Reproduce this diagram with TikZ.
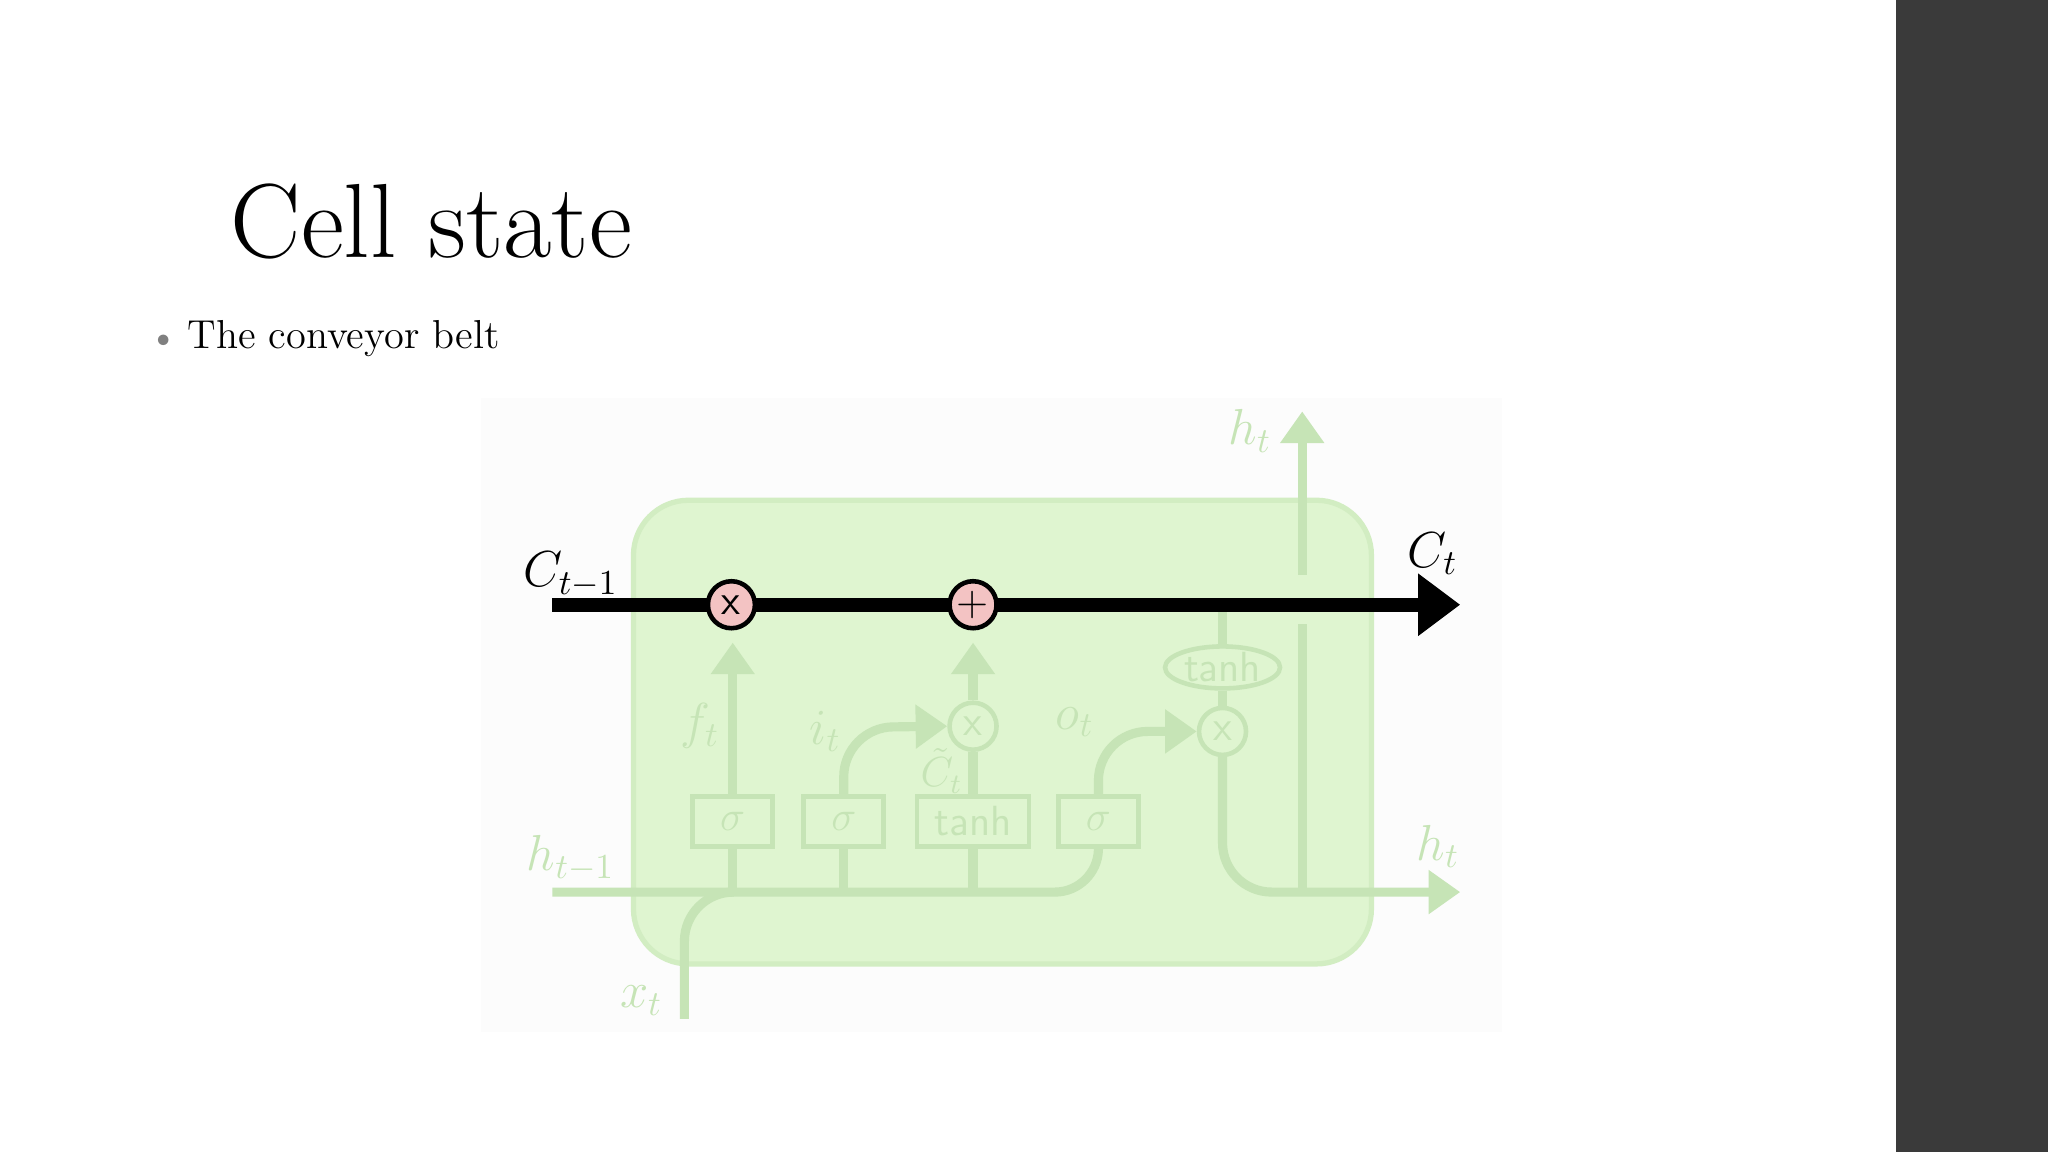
\documentclass[tikz,border=0pt]{standalone}
\usetikzlibrary{arrows.meta,shapes.geometric}
\definecolor{fade}{HTML}{C6E4B6}
\definecolor{boxg}{HTML}{DFF5D0}
\definecolor{boxb}{HTML}{D2EDC2}
\definecolor{pinkc}{HTML}{F3C3C3}
\definecolor{panel}{HTML}{3A3A3A}
\tikzset{
 fl/.style={draw=fade,line width=2.6pt},
 fa/.style={fl,-{Triangle[length=9pt,width=12pt]}},
 fbox/.style={draw=fade,line width=1.3pt,text=fade,font=\sffamily\large,minimum height=0.5cm,inner sep=1pt},
 fcirc/.style={circle,draw=fade,line width=1.3pt,text=fade,minimum size=0.47cm,inner sep=0pt,font=\sffamily\large},
 pc/.style={circle,draw=black,fill=pinkc,line width=1.3pt,minimum size=0.47cm,inner sep=0pt,font=\sffamily\large},
 fadetxt/.style={text=fade,font=\Large},
}
\begin{document}
\begin{tikzpicture}[x=0.013061cm,y=-0.013061cm]
\useasboundingbox (0,0) rectangle (1568,882);
\fill[white] (0,0) rectangle (1568,882);
\fill[panel] (1452,0) rectangle (1568,882);
\fill[black!1] (368,305) rectangle (1150,790);
\node[anchor=base west,inner sep=0,font=\fontsize{30}{36}\selectfont] (title) at (176,197) {Cell state};
\node[anchor=base west,inner sep=0,text=gray,font=\scriptsize] (bul) at (119,265) {$\bullet$};
\node[anchor=base west,inner sep=0,font=\fontsize{11.5}{14}\selectfont] (b1) at (143,267) {The conveyor belt};
% green cell
\draw[fill=boxg,draw=boxb,line width=1.5pt,rounded corners=0.55cm] (485,383) rectangle (1050,738);
% boxes
\node[fbox,minimum width=0.8cm] (s1) at (561,629) {$\sigma$};
\node[fbox,minimum width=0.8cm] (s2) at (646,629) {$\sigma$};
\node[fbox,minimum width=1.12cm] (th) at (745,629) {tanh};
\node[fbox,minimum width=0.8cm] (s3) at (841,629) {$\sigma$};
\node[fcirc] (m2) at (745,556) {x};
\node[fcirc] (m3) at (936,560) {x};
\node[ellipse,draw=fade,line width=1.3pt,text=fade,font=\sffamily\large,minimum width=1.15cm,minimum height=0.42cm,inner sep=0pt] (te) at (936,511) {tanh};
% coordinates
\coordinate (hin) at (423,683);
\coordinate (hout) at (1118,683);
\coordinate (xin) at (524,780);
\coordinate (cin) at (423,463);
\coordinate (cout) at (1118,463);
\coordinate (htop) at (997,315);
% faded flows
\draw[fl,rounded corners=12pt] (hin) -- (840,683) -- (s3.south);
\draw[fl,rounded corners=14pt] (xin) -- (524,683) -- (560,683);
\draw[fl] (s1.south) -- (561,683);
\draw[fl] (s2.south) -- (646,683);
\draw[fl] (th.south) -- (745,683);
\draw[fa] (s1.north) -- (561,492);
\draw[fa,rounded corners=14pt] (s2.north) -- (646,557) -- (m2.west);
\draw[fl] (th.north) -- (m2.south);
\draw[fa] (m2.north) -- (745,492);
\draw[fa,rounded corners=14pt] (s3.north) -- (841,560) -- (m3.west);
\draw[fl] (936,466) -- (te.north);
\draw[fl] (te.south) -- (m3.north);
\draw[fa,rounded corners=14pt] (m3.south) -- (936,683) -- (hout);
\draw[fl] (997,683) -- (997,478);
\draw[fa] (997,440) -- (htop);
% cell state line
\draw[line width=4pt,-{Triangle[length=12pt,width=17pt]}] (cin) -- (cout);
\node[pc] (m1) at (560,463) {x};
\node[pc] (p1) at (745,463) {+};
% labels
\node[font=\Large] (lc1) at (437,440) {$C_{t-1}$};
\node[font=\Large] (lc2) at (1097,424) {$C_t$};
\node[fadetxt] (lf) at (536,556) {$f_t$};
\node[fadetxt] (li) at (632,560) {$i_t$};
\node[text=fade,font=\large] (lct) at (721,590) {$\tilde{C}_t$};
\node[fadetxt] (lo) at (823,553) {$o_t$};
\node[fadetxt] (lht) at (957,330) {$h_t$};
\node[fadetxt] (lh2) at (1101,648) {$h_t$};
\node[fadetxt] (lh1) at (437,657) {$h_{t-1}$};
\node[fadetxt] (lx) at (491,766) {$x_t$};
\end{tikzpicture}
\end{document}
